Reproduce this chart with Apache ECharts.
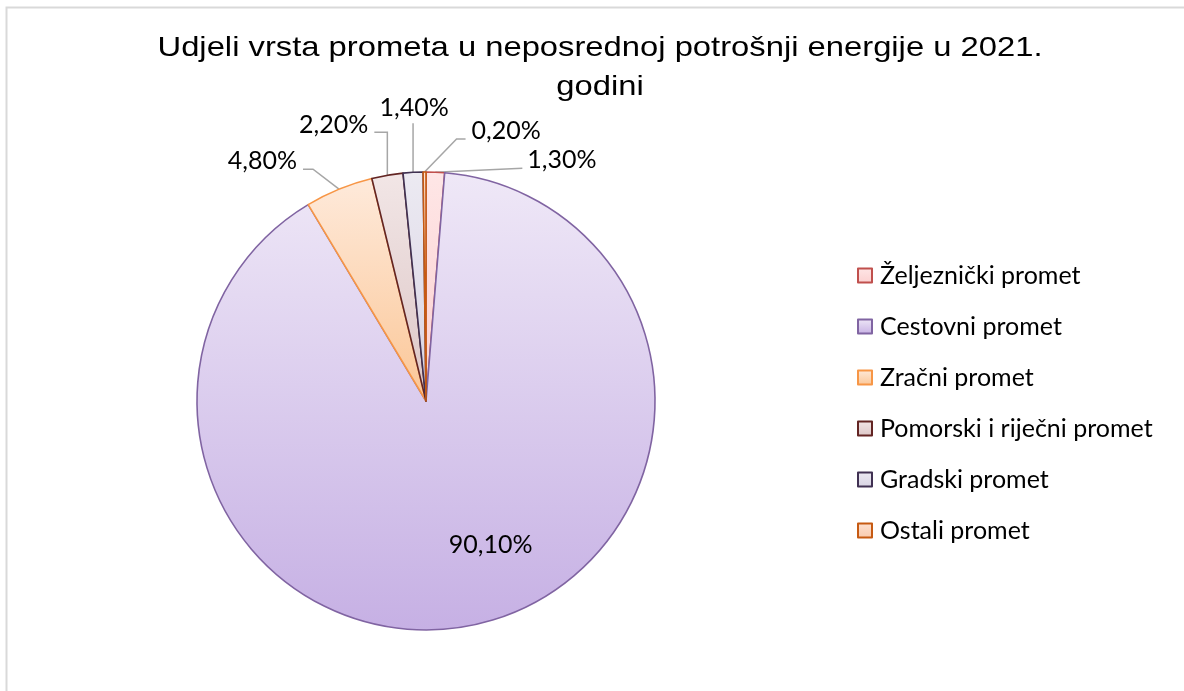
<!DOCTYPE html>
<html>
<head>
<meta charset="utf-8">
<script src="https://cdn.jsdelivr.net/npm/echarts@6/dist/echarts.min.js"></script>
<style>
  html, body { margin: 0; padding: 0; background: #ffffff; }
  #chart { width: 1184px; height: 691px; }
</style>
</head>
<body>
<div id="chart"></div>
<script>
// ---- data ----
const titleText = 'Udjeli vrsta prometa u neposrednoj potrošnji energije u 2021.\ngodini';
const categories = ['Željeznički promet', 'Cestovni promet', 'Zračni promet', 'Pomorski i riječni promet', 'Gradski promet', 'Ostali promet'];
const shares = [1.3, 90.1, 4.8, 2.2, 1.4, 0.2];

// ---- styles ----
const borderColors = ['#C0504D', '#8064A2', '#F79646', '#632523', '#403152', '#C65A12'];
const fillTop =      ['#FEE6E6', '#EFE8F7', '#FEEADB', '#F2E6E6', '#ECEAF2', '#FDE2D2'];
const fillBottom =   ['#FBD0D0', '#C6B0E4', '#FBC696', '#DCC6C6', '#D8D3E3', '#F9C9AC'];

// label placement relative to the slice's rim anchor (styling only)
const labelPlacement = [
  { pts: [[87, -4], [87, -4]], x: 92, y: -12, align: 'left' },
  null,
  { pts: [[-26, -20], [-36, -20]], x: -42, y: -28, align: 'right' },
  { pts: [[0, -43], [-13, -43]], x: -19, y: -50, align: 'right' },
  { pts: [[0, -49], [0, -49]], x: 1, y: -64, align: 'center' },
  { pts: [[32, -33], [41, -33]], x: 47, y: -41, align: 'left' }
];

function fmt(v) { return v.toFixed(2).replace('.', ',') + '%'; }

const seriesData = categories.map((name, i) => ({
  name: name,
  value: shares[i],
  itemStyle: {
    color: new echarts.graphic.LinearGradient(0, 0, 0, 1, [
      { offset: 0, color: fillTop[i] },
      { offset: 1, color: fillBottom[i] }
    ]),
    borderColor: borderColors[i],
    borderWidth: 1.6
  },
  label: i === 1 ? { position: 'inside' } : { position: 'outside' },
  labelLine: { show: i !== 1 }
}));

const chart = echarts.init(document.getElementById('chart'), null, { renderer: 'canvas' });
chart.setOption({
  animation: false,
  backgroundColor: '#ffffff',
  graphic: [{
    type: 'rect',
    shape: { x: 6.5, y: 7.5, width: 1300, height: 800 },
    style: { fill: 'none', stroke: '#D9D9D9', lineWidth: 2 },
    silent: true
  }, {
    type: 'text',
    x: 600,
    y: 29,
    scaleX: 1.17,
    silent: true,
    style: {
      text: titleText,
      align: 'center',
      verticalAlign: 'top',
      fontFamily: 'Liberation Sans',
      fontSize: 28,
      lineHeight: 39,
      fill: '#000000'
    }
  }],
  legend: {
    orient: 'vertical',
    left: 852,
    top: 258,
    itemWidth: 14,
    itemHeight: 14,
    itemGap: 26,
    icon: 'rect',
    selectedMode: false,
    textStyle: {
      fontFamily: 'Lato',
      fontSize: 25,
      color: '#000000',
      lineHeight: 24,
      padding: [0, 0, 0, 3]
    },
    data: categories
  },
  series: [{
    type: 'pie',
    center: [426, 401],
    radius: 229,
    startAngle: 90,
    clockwise: true,
    avoidLabelOverlap: false,
    silent: true,
    emphasis: { disabled: true },
    label: {
      show: true,
      formatter: p => fmt(p.value),
      fontFamily: 'Lato',
      fontSize: 25,
      color: '#000000'
    },
    labelLine: {
      show: true,
      length: 10,
      length2: 10,
      lineStyle: { color: '#A6A6A6', width: 1.5 }
    },
    labelLayout: function (params) {
      const o = labelPlacement[params.dataIndex];
      if (!o) {
        return { dx: 38, dy: 30 };
      }
      if (!params.labelLinePoints) return {};
      const p0 = params.labelLinePoints[0];
      return {
        x: p0[0] + o.x,
        y: p0[1] + o.y,
        align: o.align,
        verticalAlign: 'middle',
        labelLinePoints: [
          [p0[0], p0[1]],
          [p0[0] + o.pts[0][0], p0[1] + o.pts[0][1]],
          [p0[0] + o.pts[1][0], p0[1] + o.pts[1][1]]
        ]
      };
    },
    data: seriesData
  }]
});
</script>
</body>
</html>
